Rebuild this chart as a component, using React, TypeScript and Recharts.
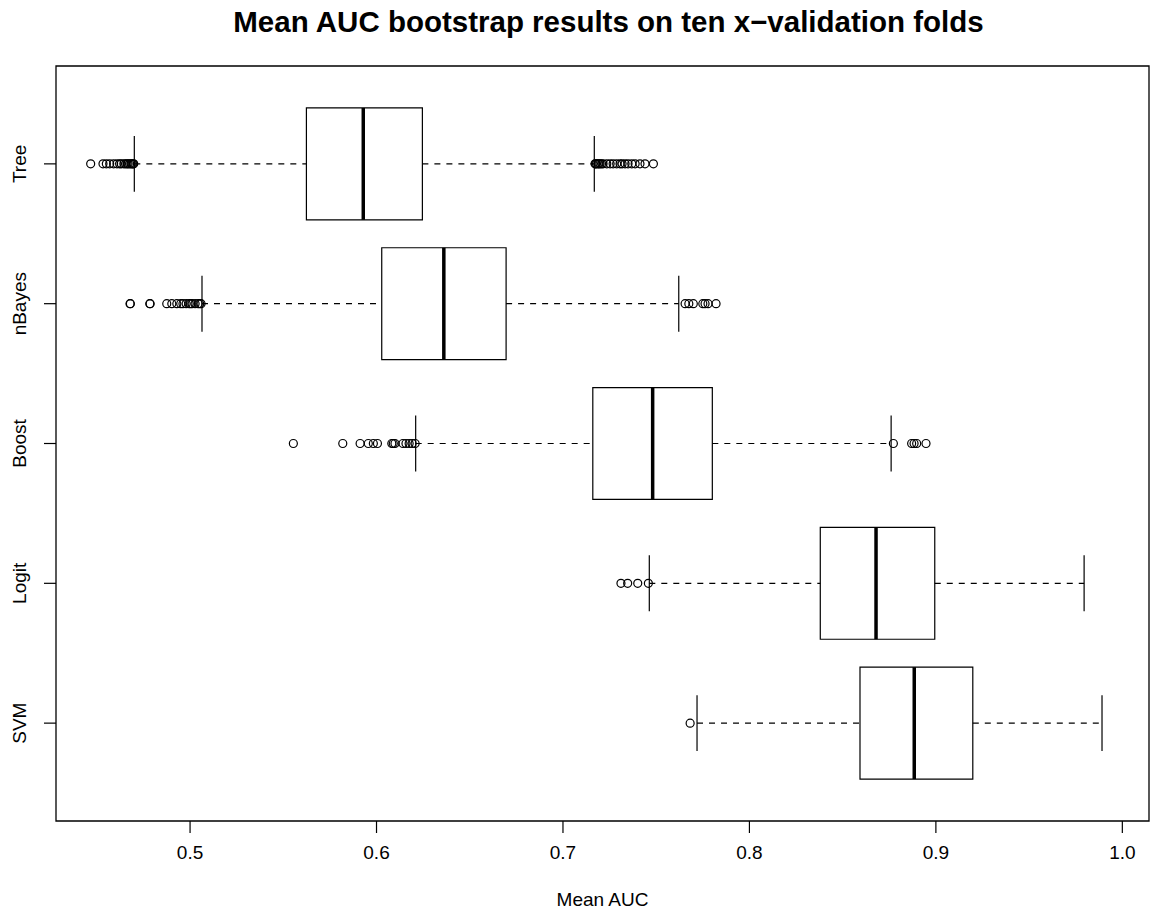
import React from "react";
import {
  ReferenceArea,
  ReferenceLine,
  Scatter,
  ScatterChart,
  XAxis,
  YAxis,
} from "recharts";

const models = ["Tree", "nBayes", "Boost", "Logit", "SVM"];
const whiskerLow = [0.4701, 0.5064, 0.621, 0.7463, 0.7719];
const q1 = [0.5624, 0.6028, 0.716, 0.838, 0.8593];
const medians = [0.5929, 0.6361, 0.7481, 0.8679, 0.8884];
const q3 = [0.6246, 0.6695, 0.7801, 0.8994, 0.9198];
const whiskerHigh = [0.7168, 0.7621, 0.876, 0.9795, 0.9891];

const treeOutliers = [
  0.4467, 0.4533, 0.4551, 0.4569, 0.459, 0.4608, 0.4622, 0.4631, 0.4645,
  0.4654, 0.4662, 0.4668, 0.4676, 0.4683, 0.4689, 0.4694, 0.4698, 0.7172,
  0.7175, 0.718, 0.7188, 0.7193, 0.7199, 0.7207, 0.7215, 0.7235, 0.7253,
  0.7269, 0.7288, 0.7306, 0.7317, 0.7333, 0.7349, 0.7369, 0.7387, 0.7413,
  0.744, 0.7485,
];
const nBayesOutliers = [
  0.4678, 0.468, 0.4784, 0.4786, 0.4875, 0.4902, 0.4929, 0.495, 0.4962,
  0.4979, 0.4995, 0.5003, 0.5011, 0.5027, 0.5043, 0.5052, 0.5059, 0.7655,
  0.7675, 0.7699, 0.775, 0.7762, 0.7778, 0.7821,
];
const boostOutliers = [
  0.5554, 0.5819, 0.5912, 0.5956, 0.5983, 0.6005, 0.6082, 0.609, 0.6099,
  0.6142, 0.6158, 0.6175, 0.6191, 0.6207, 0.8772, 0.887, 0.8883, 0.8897,
  0.8947,
];
const logitOutliers = [0.7311, 0.7347, 0.7401, 0.7458];
const svmOutliers = [0.7682];

const outliers = [
  treeOutliers,
  nBayesOutliers,
  boostOutliers,
  logitOutliers,
  svmOutliers,
];

const xTicks = [0.5, 0.6, 0.7, 0.8, 0.9, 1.0];
const X_DOMAIN: [number, number] = [0.4281, 1.0143];
const Y_DOMAIN: [number, number] = [0.3, 5.7];

const FONT = "'Liberation Sans', Arial, Helvetica, sans-serif";
const AXIS_FONT_SIZE = 19;
const BOX_HALF = 0.4;
const STAPLE_HALF = 0.2;

const points = models.flatMap((_, i) =>
  outliers[i].map((v) => ({ x: v, y: i + 1 })),
);

function XTick(props: any) {
  const { x, y, payload } = props;
  return (
    <text
      x={x}
      y={y + 24}
      textAnchor="middle"
      fontFamily={FONT}
      fontSize={AXIS_FONT_SIZE}
      fill="#000"
    >
      {Number(payload.value).toFixed(1)}
    </text>
  );
}

function YTick(props: any) {
  const { x, y, payload } = props;
  const bx = x - 16;
  return (
    <text
      x={bx}
      y={y}
      transform={`rotate(-90, ${bx}, ${y})`}
      textAnchor="middle"
      fontFamily={FONT}
      fontSize={AXIS_FONT_SIZE}
      fill="#000"
    >
      {models[payload.value - 1]}
    </text>
  );
}

function Circle(props: any) {
  return (
    <circle
      cx={props.cx}
      cy={props.cy}
      r={4}
      fill="none"
      stroke="#000"
      strokeWidth={1.2}
    />
  );
}

export default function App() {
  return (
    <div
      style={{
        position: "absolute",
        left: 0,
        top: 0,
        width: 1161,
        height: 915,
        background: "#fff",
      }}
    >
      <div
        style={{
          position: "absolute",
          left: 62,
          width: 1093,
          top: 5,
          textAlign: "center",
          fontFamily: FONT,
          fontWeight: "bold",
          fontSize: 29.5,
          whiteSpace: "nowrap",
        }}
      >
        Mean AUC bootstrap results on ten x−validation folds
      </div>
      <ScatterChart
        width={1161}
        height={915}
        margin={{ top: 66, right: 12, bottom: 34, left: 0 }}
      >
        <XAxis
          type="number"
          dataKey="x"
          domain={X_DOMAIN}
          ticks={xTicks}
          allowDataOverflow
          axisLine={false}
          tickSize={12}
          tickLine={{ stroke: "#000", strokeWidth: 1.2 }}
          tick={<XTick />}
          height={60}
          interval={0}
        />
        <YAxis
          type="number"
          dataKey="y"
          domain={Y_DOMAIN}
          ticks={[1, 2, 3, 4, 5]}
          reversed
          allowDataOverflow
          axisLine={false}
          tickSize={12}
          tickLine={{ stroke: "#000", strokeWidth: 1.2 }}
          tick={<YTick />}
          width={56}
          interval={0}
        />
        {models.map((m, i) => (
          <ReferenceLine
            key={`wl-${m}`}
            segment={[
              { x: whiskerLow[i], y: i + 1 },
              { x: q1[i], y: i + 1 },
            ]}
            stroke="#000"
            strokeWidth={1.2}
            strokeDasharray="6 6"
          />
        ))}
        {models.map((m, i) => (
          <ReferenceLine
            key={`wh-${m}`}
            segment={[
              { x: q3[i], y: i + 1 },
              { x: whiskerHigh[i], y: i + 1 },
            ]}
            stroke="#000"
            strokeWidth={1.2}
            strokeDasharray="6 6"
          />
        ))}
        {models.map((m, i) => (
          <ReferenceLine
            key={`sl-${m}`}
            segment={[
              { x: whiskerLow[i], y: i + 1 - STAPLE_HALF },
              { x: whiskerLow[i], y: i + 1 + STAPLE_HALF },
            ]}
            stroke="#000"
            strokeWidth={1.2}
          />
        ))}
        {models.map((m, i) => (
          <ReferenceLine
            key={`sh-${m}`}
            segment={[
              { x: whiskerHigh[i], y: i + 1 - STAPLE_HALF },
              { x: whiskerHigh[i], y: i + 1 + STAPLE_HALF },
            ]}
            stroke="#000"
            strokeWidth={1.2}
          />
        ))}
        {models.map((m, i) => (
          <ReferenceArea
            key={`box-${m}`}
            x1={q1[i]}
            x2={q3[i]}
            y1={i + 1 - BOX_HALF}
            y2={i + 1 + BOX_HALF}
            fill="#fff"
            fillOpacity={1}
            stroke="#000"
            strokeWidth={1.2}
          />
        ))}
        {models.map((m, i) => (
          <ReferenceLine
            key={`med-${m}`}
            segment={[
              { x: medians[i], y: i + 1 - BOX_HALF },
              { x: medians[i], y: i + 1 + BOX_HALF },
            ]}
            stroke="#000"
            strokeWidth={3.5}
          />
        ))}
        <ReferenceArea
          x1={X_DOMAIN[0]}
          x2={X_DOMAIN[1]}
          y1={Y_DOMAIN[0]}
          y2={Y_DOMAIN[1]}
          fill="none"
          stroke="#000"
          strokeWidth={1.3}
        />
        <Scatter
          data={points}
          shape={<Circle />}
          isAnimationActive={false}
        />
      </ScatterChart>
      <div
        style={{
          position: "absolute",
          left: 56,
          width: 1093,
          top: 889,
          textAlign: "center",
          fontFamily: FONT,
          fontSize: AXIS_FONT_SIZE,
        }}
      >
        Mean AUC
      </div>
    </div>
  );
}
